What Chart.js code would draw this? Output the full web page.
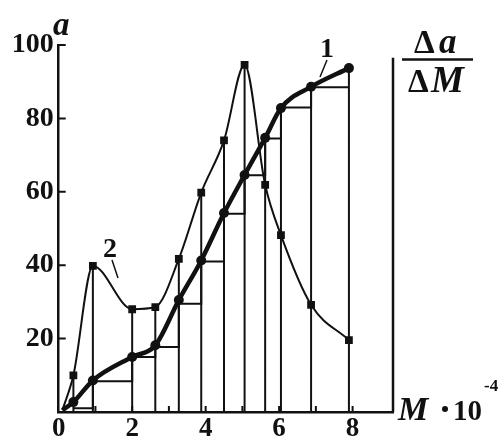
<!DOCTYPE html>
<html>
<head>
<meta charset="utf-8">
<script src="https://cdn.jsdelivr.net/npm/chart.js@4.4.0/dist/chart.umd.min.js"></script>
<style>
html,body{margin:0;padding:0;background:#fff;}
canvas{display:block;}
</style>
</head>
<body>
<canvas id="c" width="500" height="439" style="width:500px;height:439px"></canvas>
<script>
// ---- data ----
const mValues   = [0.1, 0.4, 0.93, 2.0, 2.63, 3.27, 3.88, 4.5, 5.06, 5.62, 6.05, 6.87, 7.9];
const curve1    = [0.5, 2.7, 8.6, 15, 18.2, 30.5, 41.3, 54.2, 64.6, 74.7, 82.8, 88.6, 93.7];   // a
const curve2    = [0.5, 10, 39.8, 28, 28.6, 41.7, 59.8, 74, 94.6, 61.9, 48.2, 29.2, 19.6];    // Δa/ΔM
const barHeights = [1, 8.4, 15, 17.7, 29.5, 41, 54, 64.5, 74.5, 83, 88.5];                     // steps between mValues[1..12]
const xTickLabels = [0, 2, 4, 6, 8];
const xTickMarks  = [1, 2, 3, 4, 5, 6, 7, 8];
const yTickLabels = [20, 40, 60, 80, 100];
const xMax = 9.1, yMax = 100, rightAxisTop = 96.5;

const INK = '#111';
const SERIF = "'Liberation Serif', 'DejaVu Serif', serif";

// vertical bar edges: from 0 up to the higher of the two curves
const verticals = [];
for (let i = 1; i < mValues.length; i++) {
  verticals.push({x: mValues[i], y: 0});
  verticals.push({x: mValues[i], y: Math.max(curve1[i], curve2[i])});
  verticals.push({x: mValues[i], y: null});
}
// histogram tops (stepped)
const steps = [];
for (let i = 0; i < barHeights.length; i++) steps.push({x: mValues[i + 1], y: barHeights[i]});
steps.push({x: mValues[mValues.length - 1], y: barHeights[barHeights.length - 1]});

const c1 = mValues.map((x, i) => ({x, y: curve1[i]}));
const c2 = mValues.map((x, i) => ({x, y: curve2[i]}));
const hideFirst = r => (ctx => ctx.dataIndex === 0 ? 0 : r);

const annot = {
  id: 'annot',
  afterDraw(chart) {
    const {ctx, scales: {x, y}} = chart;
    ctx.save();
    ctx.strokeStyle = INK; ctx.fillStyle = INK;
    // inner tick marks
    ctx.lineWidth = 2;
    ctx.beginPath();
    yTickLabels.forEach(v => { const py = y.getPixelForValue(v); ctx.moveTo(x.left, py); ctx.lineTo(x.left + 7, py); });
    xTickMarks.forEach(v => { const px = x.getPixelForValue(v); ctx.moveTo(px, y.bottom); ctx.lineTo(px, y.bottom - 6); });
    ctx.stroke();
    // right axis line
    ctx.lineWidth = 2.5;
    ctx.beginPath();
    ctx.moveTo(x.getPixelForValue(xMax), y.getPixelForValue(rightAxisTop));
    ctx.lineTo(x.getPixelForValue(xMax), y.getPixelForValue(0));
    ctx.stroke();
    // axis name "a"
    ctx.textBaseline = 'alphabetic';
    ctx.textAlign = 'left';
    ctx.font = 'italic bold 33px ' + SERIF;
    ctx.fillText('a', 53, 35);
    // curve labels
    ctx.font = 'bold 28px ' + SERIF;
    ctx.textAlign = 'center';
    ctx.fillText('1', 327, 57);
    ctx.fillText('2', 110, 257);
    ctx.lineWidth = 1.5;
    ctx.beginPath();
    ctx.moveTo(327, 60); ctx.lineTo(320, 77);
    ctx.moveTo(112, 260); ctx.lineTo(118, 278);
    ctx.stroke();
    // Δa / ΔM
    ctx.textAlign = 'left';
    ctx.font = 'bold 33px ' + SERIF;
    ctx.fillText('\u0394', 414, 53);
    ctx.font = 'italic bold 35px ' + SERIF;
    ctx.fillText('a', 439, 53);
    ctx.font = 'bold 33px ' + SERIF;
    ctx.fillText('\u0394', 408, 92);
    ctx.font = 'italic bold 37px ' + SERIF;
    ctx.fillText('M', 431, 92);
    ctx.lineWidth = 2.5;
    ctx.beginPath(); ctx.moveTo(402, 59.5); ctx.lineTo(473, 59.5); ctx.stroke();
    // M·10^-4
    ctx.font = 'italic bold 34px ' + SERIF;
    ctx.fillText('M', 398, 420);
    ctx.beginPath(); ctx.arc(445, 409, 3, 0, Math.PI * 2); ctx.fill();
    ctx.font = 'bold 29px ' + SERIF;
    ctx.fillText('10', 453, 420);
    ctx.font = 'bold 17px ' + SERIF;
    ctx.fillText('-4', 484, 391);
    ctx.restore();
  }
};

new Chart(document.getElementById('c'), {
  type: 'scatter',
  data: {
    datasets: [
      {data: verticals, showLine: true, spanGaps: false, borderColor: INK, borderWidth: 2, pointRadius: 0, tension: 0},
      {data: steps, showLine: true, stepped: 'before', borderColor: INK, borderWidth: 2, pointRadius: 0},
      {data: c2, showLine: true, borderColor: INK, borderWidth: 2, cubicInterpolationMode: 'monotone',
       pointStyle: 'rect', pointRadius: hideFirst(5.5), pointBackgroundColor: INK, pointBorderColor: INK, pointBorderWidth: 0},
      {data: c1, showLine: true, borderColor: INK, borderWidth: 4.5, cubicInterpolationMode: 'monotone',
       pointStyle: 'circle', pointRadius: hideFirst(5), pointBackgroundColor: INK, pointBorderColor: INK, pointBorderWidth: 0}
    ]
  },
  options: {
    responsive: false, animation: false, devicePixelRatio: 1,
    layout: {padding: {top: 45, right: 107, left: 0, bottom: 0}},
    plugins: {legend: {display: false}, tooltip: {enabled: false}},
    scales: {
      x: {
        type: 'linear', min: 0, max: xMax,
        afterFit(s) { s.height = 27; },
        afterBuildTicks(s) { s.ticks = xTickLabels.map(v => ({value: v})); },
        grid: {display: false, drawTicks: false},
        border: {display: true, color: INK, width: 2.5},
        ticks: {autoSkip: false, maxRotation: 0, padding: 1, color: INK,
                font: {family: SERIF, size: 27, weight: 'bold'}}
      },
      y: {
        type: 'linear', min: 0, max: yMax,
        afterFit(s) { s.width = 58.7; },
        afterBuildTicks(s) { s.ticks = yTickLabels.map(v => ({value: v})); },
        grid: {display: false, drawTicks: false},
        border: {display: true, color: INK, width: 2.5},
        ticks: {autoSkip: false, padding: 5, color: INK,
                font: {family: SERIF, size: 28, weight: 'bold'}}
      }
    }
  },
  plugins: [annot]
});
</script>
</body>
</html>
